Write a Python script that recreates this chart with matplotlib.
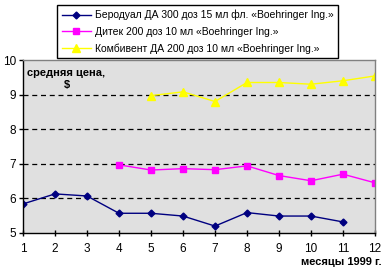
import numpy as np
import matplotlib.pyplot as plt

plt.rcParams['font.family'] = ['Liberation Sans', 'DejaVu Sans']

months = list(range(1, 13))
berodual = [5.84, 6.13, 6.07, 5.57, 5.57, 5.49, 5.20, 5.59, 5.49, 5.49, 5.32, np.nan]
ditek = [np.nan, np.nan, np.nan, 6.97, 6.82, 6.86, 6.83, 6.94, 6.66, 6.51, 6.70, 6.45]
combivent = [np.nan, np.nan, np.nan, np.nan, 8.97, 9.08, 8.80, 9.35, 9.35, 9.30, 9.40, 9.54]

labels = ['Беродуал ДА 300 доз 15 мл фл. «Boehringer Ing.»',
          'Дитек 200 доз 10 мл «Boehringer Ing.»',
          'Комбивент ДА 200 доз 10 мл «Boehringer Ing.»']

fig = plt.figure(figsize=(3.85, 2.76), dpi=100)
ax = fig.add_axes([0.0597, 0.1558, 0.9143, 0.6268])
ax.set_facecolor('#e0e0e0')

l1, = ax.plot(months, berodual, color='#000080', marker='D', markersize=3.5, lw=1)
l2, = ax.plot(months, ditek, color='#ff00ff', marker='s', markersize=5, lw=1)
l3, = ax.plot(months, combivent, color='#ffff00', marker='^', markersize=5.5, lw=1)

ax.set_xlim(1, 12)
ax.set_ylim(5, 10)
ax.set_xticks(months)
ax.set_yticks([5, 6, 7, 8, 9, 10])
for y in [6, 7, 8, 9]:
    ax.axhline(y, color='black', lw=0.9, ls=(0, (4, 3)), zorder=1)
ax.tick_params(labelsize=8.5, length=3, width=1, color='black', pad=2)
ax.tick_params(axis='x', direction='inout', length=5, pad=5)
for side in ['top', 'right']:
    ax.spines[side].set_color('#808080')
    ax.spines[side].set_linewidth(1)
for side in ['left', 'bottom']:
    ax.spines[side].set_linewidth(1)

ax.text(0.012, 0.925, 'средняя цена,', transform=ax.transAxes,
        fontsize=8, fontweight='bold', ha='left', va='center')
ax.text(0.125, 0.855, '$', transform=ax.transAxes,
        fontsize=8, fontweight='bold', ha='center', va='center')
fig.text(0.99, 0.05, 'месяцы 1999 г.', fontsize=8, fontweight='bold',
         ha='right', va='center')

leg = fig.legend([l1, l2, l3], labels, loc='upper left',
                 bbox_to_anchor=(57 / 385, 1 - 5 / 276), fontsize=7.5,
                 frameon=True, fancybox=False, edgecolor='black',
                 framealpha=1, borderpad=0.45, labelspacing=0.62,
                 handlelength=2.8, handletextpad=0.4, borderaxespad=0)
leg.get_frame().set_linewidth(1)

fig.savefig('out.png', dpi=100, facecolor='white')
